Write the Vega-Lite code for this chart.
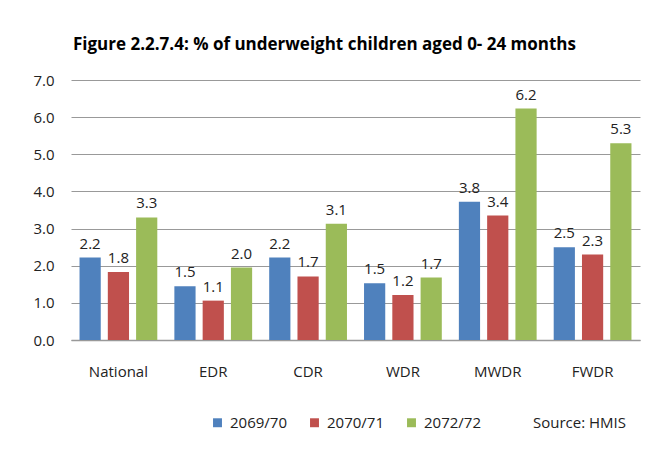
{
  "$schema": "https://vega.github.io/schema/vega-lite/v6.json",
  "width": 569,
  "height": 260,
  "autosize": "none",
  "padding": {"left": 71, "top": 80, "right": 30, "bottom": 109},
  "background": "white",
  "title": {
    "text": "Figure 2.2.7.4: % of underweight children aged 0- 24 months",
    "font": "Open Sans",
    "fontSize": 17,
    "fontWeight": "bold",
    "color": "#000000",
    "anchor": "middle",
    "dx": -31,
    "offset": 19
  },
  "data": {
    "values": [
      {"region": "National", "year": "2069/70", "value": 2.22, "label": "2.2"},
      {"region": "National", "year": "2070/71", "value": 1.83, "label": "1.8"},
      {"region": "National", "year": "2072/72", "value": 3.3, "label": "3.3"},
      {"region": "EDR", "year": "2069/70", "value": 1.45, "label": "1.5"},
      {"region": "EDR", "year": "2070/71", "value": 1.06, "label": "1.1"},
      {"region": "EDR", "year": "2072/72", "value": 1.95, "label": "2.0"},
      {"region": "CDR", "year": "2069/70", "value": 2.22, "label": "2.2"},
      {"region": "CDR", "year": "2070/71", "value": 1.71, "label": "1.7"},
      {"region": "CDR", "year": "2072/72", "value": 3.13, "label": "3.1"},
      {"region": "WDR", "year": "2069/70", "value": 1.53, "label": "1.5"},
      {"region": "WDR", "year": "2070/71", "value": 1.21, "label": "1.2"},
      {"region": "WDR", "year": "2072/72", "value": 1.68, "label": "1.7"},
      {"region": "MWDR", "year": "2069/70", "value": 3.72, "label": "3.8"},
      {"region": "MWDR", "year": "2070/71", "value": 3.35, "label": "3.4"},
      {"region": "MWDR", "year": "2072/72", "value": 6.23, "label": "6.2"},
      {"region": "FWDR", "year": "2069/70", "value": 2.5, "label": "2.5"},
      {"region": "FWDR", "year": "2070/71", "value": 2.3, "label": "2.3"},
      {"region": "FWDR", "year": "2072/72", "value": 5.3, "label": "5.3"}
    ]
  },
  "encoding": {
    "x": {
      "field": "region",
      "type": "nominal",
      "sort": ["National", "EDR", "CDR", "WDR", "MWDR", "FWDR"],
      "scale": {"paddingInner": 0.18, "paddingOuter": 0.09},
      "axis": {
        "title": null,
        "labelAngle": 0,
        "labelFont": "Open Sans",
        "labelFontSize": 15,
        "labelColor": "#222222",
        "labelPadding": 24,
        "ticks": false,
        "domainColor": "#999999",
        "domainWidth": 1.5
      }
    },
    "xOffset": {
      "field": "year",
      "type": "nominal",
      "scale": {"paddingInner": 0.25}
    },
    "y": {
      "field": "value",
      "type": "quantitative",
      "scale": {"domain": [0, 7]},
      "axis": {
        "title": null,
        "values": [0, 1, 2, 3, 4, 5, 6, 7],
        "format": ".1f",
        "labelFont": "Open Sans",
        "labelFontSize": 15,
        "labelColor": "#222222",
        "labelPadding": 17,
        "ticks": false,
        "domain": false,
        "gridColor": "#999999",
        "gridWidth": 1.2
      }
    }
  },
  "layer": [
    {
      "mark": {"type": "bar"},
      "encoding": {
        "color": {
          "field": "year",
          "type": "nominal",
          "scale": {
            "domain": ["2069/70", "2070/71", "2072/72"],
            "range": ["#4F81BD", "#C0504D", "#9BBB59"]
          },
          "legend": {
            "orient": "none",
            "legendX": 139,
            "legendY": 335,
            "direction": "horizontal",
            "title": "Source: HMIS",
            "titleOrient": "right",
            "titleFont": "Open Sans",
            "titleFontSize": 15,
            "titleFontWeight": "normal",
            "titleColor": "#222222",
            "titlePadding": 52,
            "labelFont": "Open Sans",
            "labelFontSize": 15,
            "labelColor": "#222222",
            "symbolType": "square",
            "symbolSize": 80,
            "symbolStrokeWidth": 0,
            "labelOffset": 5,
            "columnPadding": 20
          }
        }
      }
    },
    {
      "mark": {
        "type": "text",
        "baseline": "bottom",
        "dy": -6,
        "font": "Open Sans",
        "fontSize": 15,
        "color": "#222222"
      },
      "encoding": {
        "text": {"field": "label"}
      }
    }
  ],
  "config": {
    "view": {"stroke": null}
  }
}
